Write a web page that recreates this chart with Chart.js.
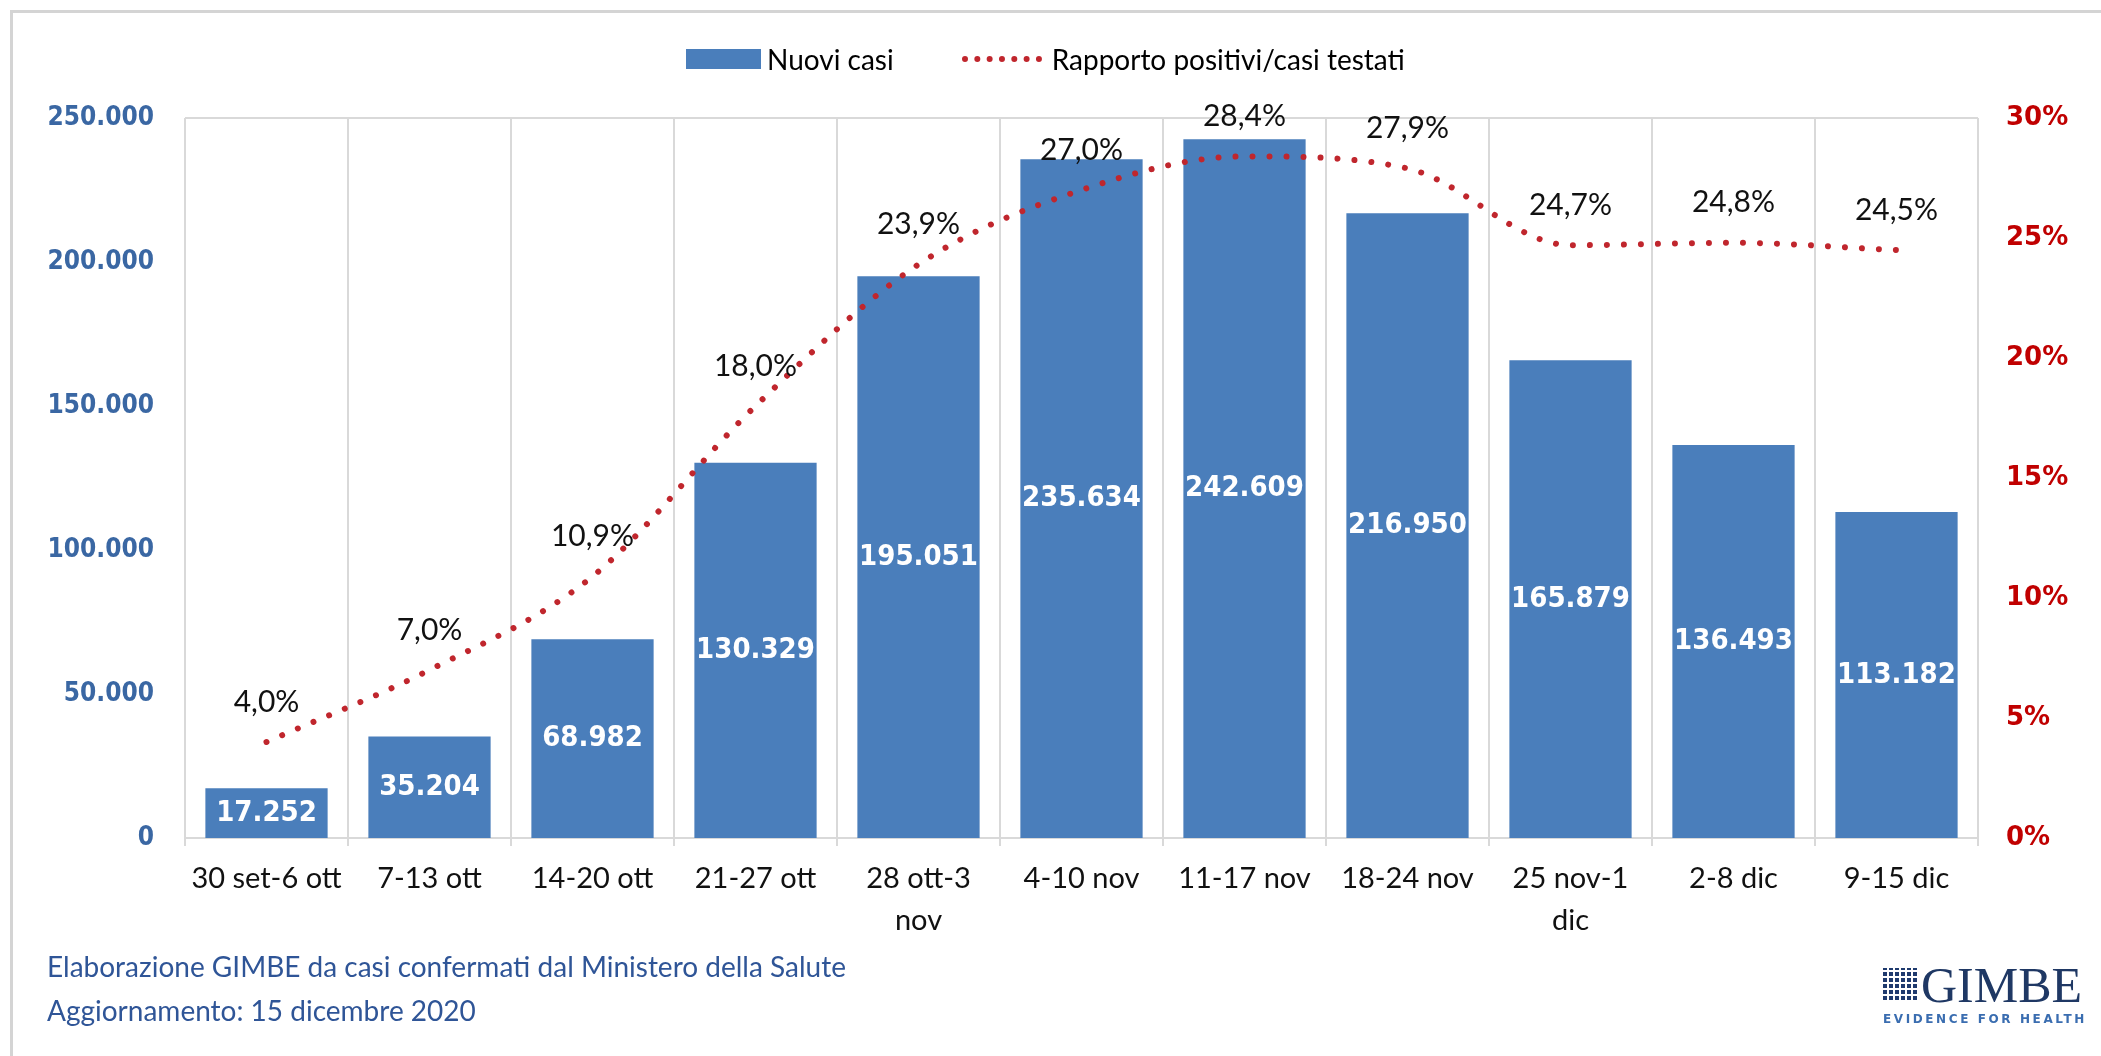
<!DOCTYPE html>
<html>
<head>
<meta charset="utf-8">
<title>Nuovi casi e rapporto positivi/casi testati</title>
<script src="https://cdn.jsdelivr.net/npm/chart.js@4.4.0/dist/chart.umd.min.js"></script>
<style>
  html, body { margin: 0; padding: 0; background: #fff; }
  body { width: 2101px; height: 1056px; position: relative; overflow: hidden; font-family: Lato, "Open Sans", sans-serif; }
  #frame { position: absolute; left: 10px; top: 10px; right: -5px; bottom: -5px; border-left: 3px solid #d4d4d4; border-top: 3px solid #d4d4d4; }
  #chart { position: absolute; left: 0; top: 0; }
  #legend { position: absolute; top: 42px; left: 686px; display: flex; align-items: center; font-size: 28px; color: #000; }
  #legend .bar { width: 75px; height: 20px; background: #4A7EBB; margin-right: 6px; }
  #legend .dots { width: 80px; height: 0; border-top: 6px dotted #C0262D; margin: 0 10px 0 68px; }
  #footer { position: absolute; left: 47px; top: 944px; font-size: 28px; line-height: 44px; color: #2F5597; }
  #logo { position: absolute; left: 1883px; top: 962px; width: 205px; }
  #logo .icon { position: absolute; left: 0; top: 6px; width: 36px; height: 34px;
    background-image: repeating-linear-gradient(0deg, #fff 0 2px, transparent 2px 6px),
                      repeating-linear-gradient(90deg, #1F3A6E 0 4px, #fff 4px 6px); }
  #logo .name { position: absolute; left: 38px; top: -6px; font-family: "Liberation Serif", "DejaVu Serif", serif; font-size: 50px; color: #1F3864; }
  #logo .tag { position: absolute; left: 0; top: 50px; font-family: "DejaVu Sans", sans-serif; font-weight: bold; font-size: 12px; letter-spacing: 2.6px; color: #3A6DB0; white-space: nowrap; }
</style>
</head>
<body>
<div id="frame"></div>
<canvas id="chart" width="2101" height="1056"></canvas>
<div id="legend">
  <div class="bar"></div><span>Nuovi casi</span>
  <div class="dots"></div><span>Rapporto positivi/casi testati</span>
</div>
<div id="footer">
  Elaborazione GIMBE da casi confermati dal Ministero della Salute<br>
  Aggiornamento: 15 dicembre 2020
</div>
<div id="logo">
  <div class="icon"></div>
  <div class="name">GIMBE</div>
  <div class="tag">EVIDENCE FOR HEALTH</div>
</div>
<script>
const weeks = ['30 set-6 ott', '7-13 ott', '14-20 ott', '21-27 ott', ['28 ott-3', 'nov'], '4-10 nov',
  '11-17 nov', '18-24 nov', ['25 nov-1', 'dic'], '2-8 dic', '9-15 dic'];
const nuoviCasi = [17252, 35204, 68982, 130329, 195051, 235634, 242609, 216950, 165879, 136493, 113182];
const rapportoPositivi = [4.0, 7.0, 10.9, 18.0, 23.9, 27.0, 28.4, 27.9, 24.7, 24.8, 24.5];

const leftTicks = { min: 0, max: 250000, step: 50000 };
const rightTicks = { min: 0, max: 30, step: 5 };

const fmtThousands = (v) => String(v).replace(/\B(?=(\d{3})+(?!\d))/g, '.');
const fmtPct = (v) => v.toFixed(1).replace('.', ',') + '%';

// plot frame + value labels, drawn by hand since there is no datalabels plugin
const labelsPlugin = {
  id: 'labels',
  beforeDatasetsDraw(chart) {
    const { ctx, chartArea: a } = chart;
    ctx.save();
    ctx.strokeStyle = '#d9d9d9';
    ctx.lineWidth = 2;
    ctx.beginPath();
    ctx.moveTo(a.left, a.top);
    ctx.lineTo(a.right, a.top);
    ctx.stroke();
    ctx.restore();
  },
  afterDatasetsDraw(chart) {
    const ctx = chart.ctx;
    ctx.save();
    ctx.textAlign = 'center';
    ctx.textBaseline = 'middle';

    ctx.fillStyle = '#fff';
    ctx.font = 'bold 29px "DejaVu Sans Condensed", "DejaVu Sans", sans-serif';
    chart.getDatasetMeta(1).data.forEach((bar, i) => {
      ctx.fillText(fmtThousands(nuoviCasi[i]), bar.x, (bar.y + bar.base) / 2);
    });

    ctx.fillStyle = '#111';
    ctx.font = '30px Lato, "Open Sans", sans-serif';
    chart.getDatasetMeta(0).data.forEach((pt, i) => {
      ctx.fillText(fmtPct(rapportoPositivi[i]), pt.x, pt.y - 40);
    });
    ctx.restore();
  }
};

new Chart(document.getElementById('chart'), {
  data: {
    labels: weeks,
    datasets: [
      {
        type: 'line',
        label: 'Rapporto positivi/casi testati',
        data: rapportoPositivi,
        yAxisID: 'y1',
        borderColor: '#C0262D',
        borderWidth: 6,
        borderDash: [0.01, 17],
        borderCapStyle: 'round',
        cubicInterpolationMode: 'monotone',
        pointRadius: 0,
        fill: false,
        order: 0
      },
      {
        type: 'bar',
        label: 'Nuovi casi',
        data: nuoviCasi,
        yAxisID: 'y',
        backgroundColor: '#4A7EBB',
        categoryPercentage: 1,
        barPercentage: 0.75,
        order: 1
      }
    ]
  },
  options: {
    responsive: false,
    animation: false,
    layout: { padding: { left: 0, right: 0, top: 118, bottom: 118 } },
    plugins: { legend: { display: false }, tooltip: { enabled: false } },
    scales: {
      x: {
        grid: { display: true, offset: true, color: '#d9d9d9', lineWidth: 2, drawTicks: true, tickLength: 8, tickColor: '#d9d9d9' },
        border: { display: true, color: '#d9d9d9', width: 2 },
        ticks: { color: '#111', font: { family: 'Lato', size: 29, lineHeight: 1.45 }, padding: 12, maxRotation: 0, autoSkip: false },
        afterFit: (s) => { s.height = 100; }
      },
      y: {
        position: 'left',
        min: leftTicks.min,
        max: leftTicks.max,
        grid: { display: false, drawTicks: false },
        border: { display: false },
        ticks: {
          stepSize: leftTicks.step,
          padding: 31,
          color: '#3A67A3',
          font: { family: '"DejaVu Sans Condensed", "DejaVu Sans"', size: 26, weight: 'bold' },
          callback: (v) => fmtThousands(v)
        },
        afterFit: (s) => { s.width = 185; }
      },
      y1: {
        position: 'right',
        min: rightTicks.min,
        max: rightTicks.max,
        grid: { display: false, drawTicks: false },
        border: { display: false },
        ticks: {
          stepSize: rightTicks.step,
          padding: 28,
          color: '#C00000',
          font: { family: '"DejaVu Sans"', size: 26, weight: 'bold' },
          callback: (v) => v + '%'
        },
        afterFit: (s) => { s.width = 123; }
      }
    }
  },
  plugins: [labelsPlugin]
});
</script>
</body>
</html>
